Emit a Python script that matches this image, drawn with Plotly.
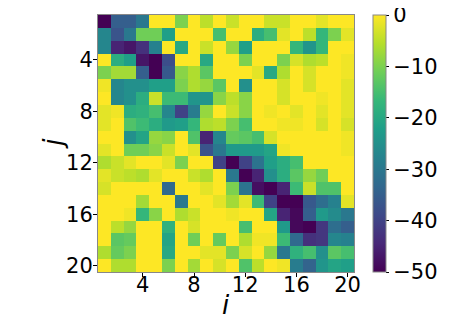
import plotly.graph_objects as go

i_vals = list(range(1, 21))
j_vals = list(range(1, 21))

row01 = [-50, -35, -35, -30, 0, 0, -10, 0, -5, 0, -4, 0, 0, -4, -4, 0, 0, -2, 0, 0]
row02 = [-27, -37, -30, -11, -11, -22, 0, 0, 0, -15, 0, 0, -19, -15, -2, 0, -5, -17, -10, -2]
row03 = [-27, -45, -47, -43, -28, 0, -20, 0, -4, 0, -8, -22, 0, 0, 0, -17, -24, -17, 0, 0]
row04 = [0, -19, -22, -47, -50, -38, 0, 0, -20, 0, 0, -10, 0, 0, -10, -3, -6, -5, 0, -1]
row05 = [-10, -7, -7, -35, -50, -36, -9, -6, -13, 0, 0, 0, -2, -20, -6, 0, -3, 0, 0, -1]
row06 = [-1, -27, -25, -25, -22, -22, -10, -6, -8, -13, 0, -25, 0, 0, -3, 0, -3, 0, 0, -2]
row07 = [0, -27, -25, -19, -4, -16, -16, -24, -24, -9, -5, -9, 0, 0, -3, 0, 0, -1, 0, -2]
row08 = [-2, -1, -19, -18, -15, -27, -40, -29, -8, 0, -4, -9, 0, -1, 0, -2, 0, -2, 0, -2]
row09 = [-2, 0, -14, -16, -19, -23, -22, -17, -6, -5, -10, -15, 0, 0, -1, -1, 0, -3, 0, -3]
row10 = [0, 0, -25, -21, -8, -9, 0, -14, -45, -27, -12, -13, -15, -3, 0, 0, 0, 0, 0, -1]
row11 = [-2, 0, -11, -11, -9, -4, 0, -2, -37, -30, -23, -23, -23, -21, -1, 0, 0, 0, 0, -1]
row12 = [-6, -4, -2, 0, 0, -2, -10, 0, 0, -40, -50, -40, -31, -22, -19, -15, 0, 0, 0, 0]
row13 = [-2, -4, -5, -6, -2, 0, 0, -4, -6, 0, -30, -50, -45, -25, -19, -13, -8, -11, 0, 0]
row14 = [-3, 0, 0, 0, 0, -33, 0, 0, -2, 0, -10, -31, -48, -50, -45, -16, -4, -14, -14, 0]
row15 = [0, 0, 0, -7, 0, 0, -30, 0, 0, -2, -7, -2, -16, -40, -50, -50, -36, -32, -28, -2]
row16 = [0, 0, -1, -17, -9, 0, -6, -4, 0, 0, -1, 0, 0, -21, -45, -49, -35, -23, -26, -30]
row17 = [0, -5, -8, 0, 0, -18, 0, -3, 0, 0, 0, -15, 0, 0, -23, -49, -50, -42, -32, -35]
row18 = [0, -13, -12, 0, 0, -21, 0, -11, 0, -12, 0, -6, -1, -1, -16, -33, -43, -42, -27, -28]
row19 = [-6, -12, -10, 0, 0, -20, 0, 0, -2, -2, -10, -3, 0, -8, -30, -18, -15, -25, -13, -15]
row20 = [0, -6, -6, 0, 0, -10, 0, -7, 0, -3, 0, -14, -5, 0, -1, -29, -34, -24, -21, -22]

z = [row01, row02, row03, row04, row05, row06, row07, row08, row09, row10,
     row11, row12, row13, row14, row15, row16, row17, row18, row19, row20]

axis_ticks = [4, 8, 12, 16, 20]
cbar_ticks = [0, -10, -20, -30, -40, -50]
cbar_text = ["0", "\u221210", "\u221220", "\u221230", "\u221240", "\u221250"]

FONT = "DejaVu Sans"
TICK_SIZE = 21

fig = go.Figure(go.Heatmap(
    x=i_vals, y=j_vals, z=z,
    zmin=-50, zmax=0,
    colorscale="Viridis",
    colorbar=dict(
        x=1.073, xanchor="left", xref="paper",
        y=0.5, yanchor="middle", len=1.0, lenmode="fraction",
        thickness=13,
        outlinewidth=1, outlinecolor="#888888",
        tickvals=cbar_ticks, ticktext=cbar_text,
        ticks="outside", ticklen=3, tickcolor="black", tickwidth=1,
        ticklabeloverflow="allow",
        tickfont=dict(family=FONT, size=TICK_SIZE, color="black"),
        xpad=0, ypad=0,
    ),
))

fig.update_layout(
    width=441, height=312,
    margin=dict(l=90, r=95, t=7, b=48, autoexpand=False),
    paper_bgcolor="white", plot_bgcolor="white",
    font=dict(family=FONT, color="black"),
    xaxis=dict(
        range=[0.5, 20.5], tickvals=axis_ticks,
        ticks="outside", ticklen=4, tickcolor="black",
        showline=True, linecolor="#888888", linewidth=1, mirror=True,
        showgrid=False, zeroline=False,
        ticklabelstandoff=-10,
        tickfont=dict(family=FONT, size=TICK_SIZE, color="black"),
    ),
    yaxis=dict(
        range=[20.5, 0.5], tickvals=axis_ticks,
        ticks="outside", ticklen=4, tickcolor="black",
        showline=True, linecolor="#888888", linewidth=1, mirror=True,
        showgrid=False, zeroline=False,
        ticklabelstandoff=-4,
        tickfont=dict(family=FONT, size=TICK_SIZE, color="black"),
    ),
    annotations=[
        dict(text="<i>i</i>", xref="paper", yref="paper", x=0.5, y=-0.13,
             xanchor="center", yanchor="middle", showarrow=False,
             font=dict(family=FONT, size=26, color="black")),
        dict(text="<i>j</i>", xref="paper", yref="paper", x=-0.179, y=0.5,
             xanchor="center", yanchor="middle", showarrow=False, textangle=-90,
             font=dict(family=FONT, size=26, color="black")),
    ],
)

fig.write_html("out.html")
